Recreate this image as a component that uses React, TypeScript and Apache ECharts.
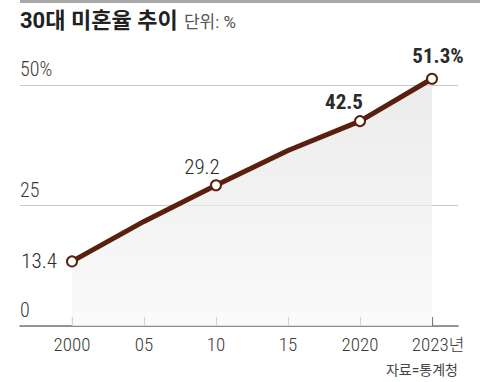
import React, { useEffect, useRef } from "react";
import * as echarts from "echarts";

const categories = ["2000", "05", "10", "15", "2020", "2023"];
const values = [13.4, 21.7, 29.2, 36.4, 42.5, 51.3];
const markedIdx = [0, 2, 4, 5];
const yTickLabels = ["0", "25", "50%"];

const NUM_FONT = "'Roboto Condensed', Roboto, sans-serif";
const KR_FONT = "Roboto, 'Noto Sans CJK KR', sans-serif";

export default function App() {
  const ref = useRef<HTMLDivElement>(null);
  useEffect(() => {
    if (!ref.current) return;
    const chart = echarts.init(ref.current, undefined, { renderer: "svg" });

    const labelCfg: Record<number, any> = {
      0: { position: "left", distance: 9, fontWeight: 300 },
      2: { position: "top", distance: 2, offset: [-14, 0], fontWeight: 300 },
      4: { position: "top", distance: 3, offset: [-16, 0], fontWeight: "bold" },
      5: { position: "top", distance: 6, offset: [6, 0], fontWeight: "bold" },
    };

    const data = values.map((v, i) => {
      const marked = markedIdx.includes(i);
      const item: any = { value: [i, v] };
      if (!marked) {
        item.symbol = "none";
        item.label = { show: false };
      } else {
        const lc = labelCfg[i];
        item.label = {
          show: true,
          position: lc.position,
          distance: lc.distance,
          offset: lc.offset || [0, 0],
          fontFamily: NUM_FONT,
          fontSize: 21,
          fontWeight: lc.fontWeight,
          color: "#2b2b2b",
          formatter: i === values.length - 1 ? `${v}%` : `${v}`,
        };
      }
      return item;
    });

    chart.setOption({
      animation: false,
      backgroundColor: "#ffffff",
      textStyle: { fontFamily: NUM_FONT },
      grid: { left: 20, right: 22, top: 85, bottom: 56 },
      xAxis: {
        type: "value",
        min: -52 / 72,
        max: 5 + 26 / 72,
        splitLine: { show: false },
        axisLine: { show: true, onZero: false, lineStyle: { color: "#7a7a7a", width: 1.5 } },
        axisTick: {
          show: true,
          inside: true,
          length: 9,
          customValues: categories.map((_, i) => i),
          lineStyle: { color: "#7a7a7a", width: 1.2 },
        },
        axisLabel: {
          customValues: categories.map((_, i) => i),
          margin: 9,
          fontFamily: NUM_FONT,
          fontSize: 19,
          fontWeight: 300,
          color: "#3a3a3a",
          formatter: (val: number) => {
            const i = Math.round(val);
            if (i === categories.length - 1) return `{s| }${categories[i]}{u|년}`;
            return categories[i];
          },
          rich: {
            s: { width: 12, fontSize: 19, fontFamily: NUM_FONT },
            u: { fontSize: 17, fontFamily: KR_FONT, color: "#3a3a3a" },
          },
        },
      },
      yAxis: {
        type: "value",
        min: 0,
        max: 50,
        interval: 25,
        axisLine: { show: false },
        axisTick: { show: false },
        splitLine: { show: true, lineStyle: { color: "#c8c8c8", width: 1 } },
        axisLabel: {
          show: true,
          inside: true,
          margin: 0,
          verticalAlign: "bottom",
          padding: [0, 0, 6, 0],
          fontFamily: NUM_FONT,
          fontSize: 20,
          fontWeight: 300,
          color: "#3a3a3a",
          formatter: (v: number) => yTickLabels[Math.round(v / 25)],
        },
      },
      graphic: [
        { type: "rect", left: 20, top: 0, shape: { width: 460, height: 3 }, style: { fill: "#a8a8a8" } },
        {
          type: "text",
          left: 20,
          top: 9,
          style: {
            text: "{t|30대 미혼율 추이} {u|단위: %}",
            rich: {
              t: { fontSize: 22, fontWeight: "bold", fontFamily: KR_FONT, fill: "#222" },
              u: { fontSize: 17, fontFamily: KR_FONT, fill: "#555", padding: [3, 0, 0, 3] },
            },
          },
        },
        {
          type: "text",
          right: 22,
          top: 363,
          style: { text: "자료=통계청", fontSize: 14, fontFamily: KR_FONT, fill: "#444" },
        },
      ],
      series: [
        {
          type: "line",
          data,
          clip: false,
          symbol: "circle",
          symbolSize: 10,
          itemStyle: { color: "#ffffff", borderColor: "#5a1f0d", borderWidth: 2 },
          lineStyle: { color: "#5a1f0d", width: 5 },
          areaStyle: {
            color: new echarts.graphic.LinearGradient(0, 0, 0, 1, [
              { offset: 0, color: "#e3e3e3" },
              { offset: 1, color: "#f8f8f8" },
            ]),
            origin: "start",
          },
          z: 3,
        },
      ],
    });
    return () => chart.dispose();
  }, []);
  return <div ref={ref} style={{ width: 480, height: 382, position: "fixed", left: 0, top: 0 }} />;
}
